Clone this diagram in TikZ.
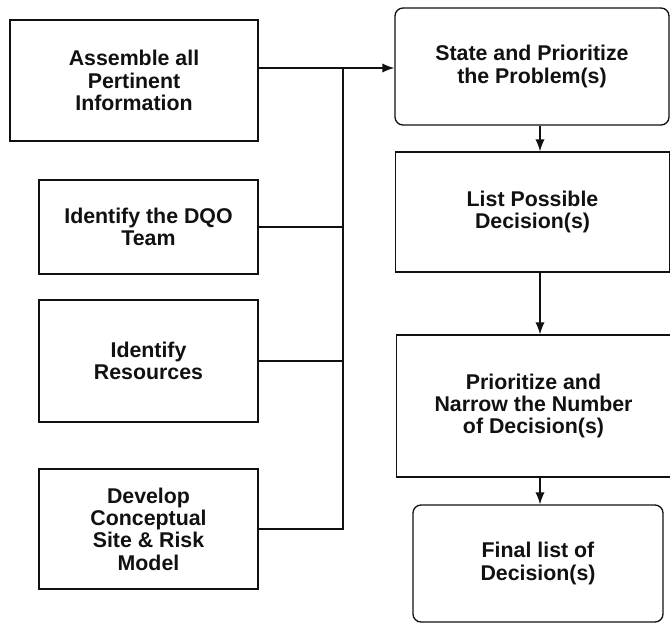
\documentclass[tikz,border=0pt]{standalone}
\usepackage{fontspec}
\setmainfont{Liberation Sans}
\usetikzlibrary{arrows.meta,positioning,calc}
\definecolor{FCInk}{HTML}{111111}
\tikzset{
  flow/.style={-{Latex[length=9pt,width=7pt]},FCInk,line width=1.1pt},
  link/.style={FCInk,line width=1.1pt},
  step box/.style={draw=FCInk,line width=1.0pt,fill=white,text=FCInk,align=center,
                  inner sep=2mm,font=\fontsize{16}{16.8}\selectfont\bfseries},
  roundbox/.style={step box,rounded corners=6pt},
}
\begin{document}
\begin{tikzpicture}[x=0.75pt,y=-0.75pt,
      leftbox/.style={step box,minimum width=164.25pt},
      rightbox/.style={step box,minimum width=206pt}]
  \useasboundingbox[fill=white] (0,0) rectangle (670,624);

  \node[step box,minimum width=186pt,minimum height=90.75pt] (assemble) at (134,80.5)
    {Assemble all\\Pertinent\\Information};
  \node[leftbox,minimum height=70.5pt] (team) at (148.5,227) {Identify the DQO\\Team};
  \node[leftbox,minimum height=91.5pt] (resources) at (148.5,361) {Identify\\Resources};
  \node[leftbox,minimum height=90pt] (model) at (148.5,529)
    {Develop\\Conceptual\\Site \& Risk\\Model};

  \node[roundbox,minimum width=205.5pt,minimum height=87.75pt] (problem) at (532,66.5)
    {State and Prioritize\\the Problem(s)};
  \node[rightbox,minimum height=90pt] (possible) at (532.5,212) {List Possible\\Decision(s)};
  \node[rightbox,minimum height=106.5pt] (narrow) at (533.5,406)
    {Prioritize and\\Narrow the Number\\of Decision(s)};
  \node[roundbox,minimum width=187.5pt,minimum height=87.75pt] (final) at (538,563.5)
    {Final list of\\Decision(s)};

  \coordinate (bus) at (343,68);
  \coordinate (spine) at (540,0);

  \draw[link] (model.east) -| (bus);
  \draw[link] (team.east) -- (team.east -| bus);
  \draw[link] (resources.east) -- (resources.east -| bus);
  \draw[flow] (assemble.east |- bus) -- (problem.west |- bus);

  \draw[flow] (problem.south -| spine) -- (possible.north -| spine);
  \draw[flow] (possible.south -| spine) -- (narrow.north -| spine);
  \draw[flow] (narrow.south -| spine) -- (final.north -| spine);
\end{tikzpicture}
\end{document}
